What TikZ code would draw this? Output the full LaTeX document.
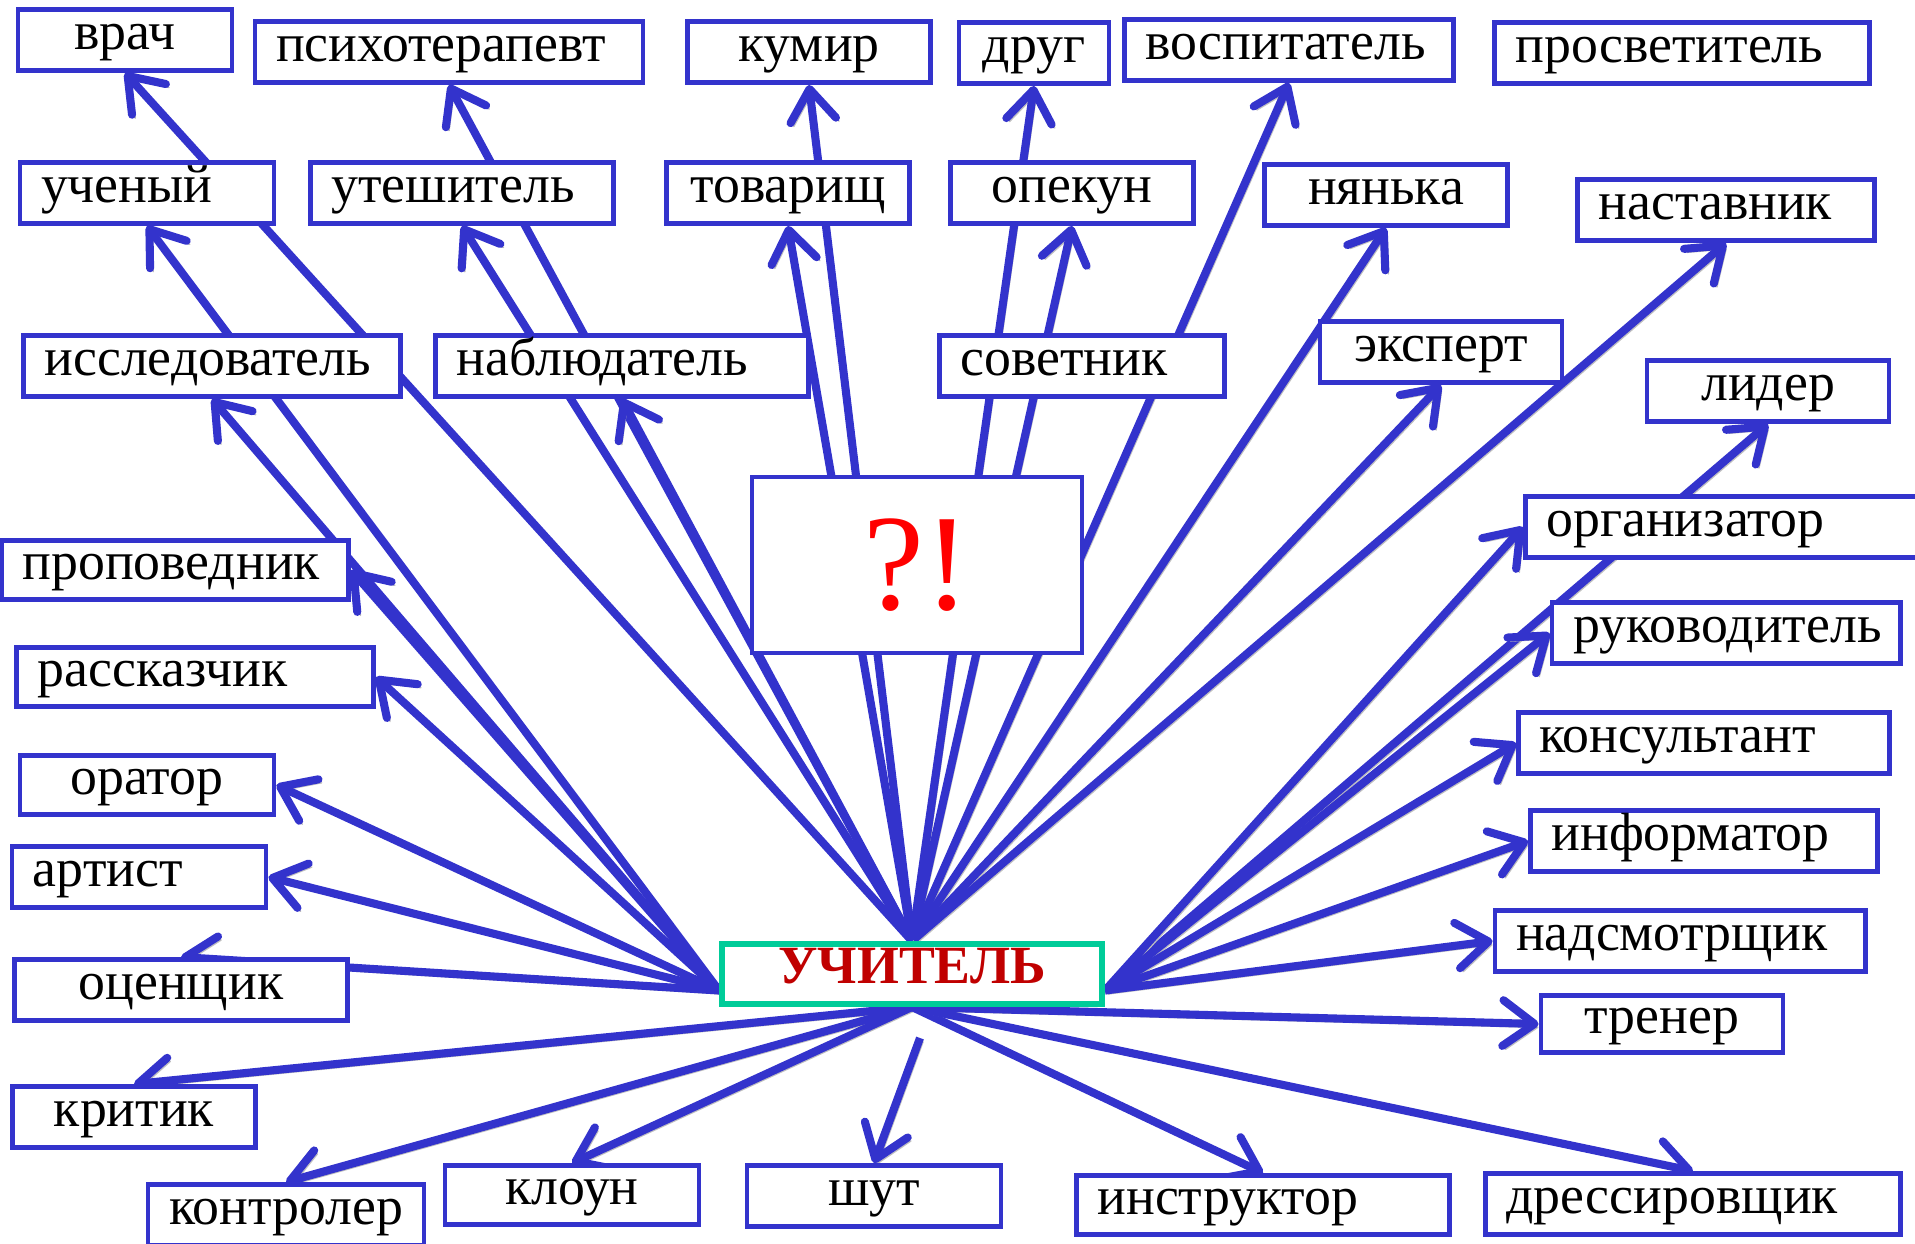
\documentclass[tikz,border=0pt]{standalone}
\usepackage{fontspec}
\setmainfont{Liberation Serif}
\usepackage{tikz}
\usetikzlibrary{arrows.meta, calc, backgrounds}
\definecolor{LineBlue}{HTML}{3333CC}
\definecolor{Teal}{HTML}{00CC99}
\definecolor{DeepRed}{HTML}{C00000}
\definecolor{Signal}{HTML}{FF0000}
\tikzset{
  word/.style={draw=LineBlue, line width=1.4pt, fill=white, inner sep=0pt,
    minimum height=0.61cm, text=black, text height=0.30cm, text depth=0.11cm,
    font=\fontsize{15.3}{18}\selectfont},
  lword/.style={word, align=left, inner xsep=0.21cm, text width=#1},
  teacher/.style={draw=Teal, line width=1.7pt, fill=white, inner sep=0pt,
    minimum width=3.8cm, minimum height=0.6cm, text=DeepRed,
    text height=0.35cm, text depth=0.17cm,
    font=\fontsize{15.3}{18}\selectfont\bfseries},
  link/.style={-{Straight Barb[length=9pt, width=13pt, round]}, line width=2.3pt, color=LineBlue,
    preaction={draw=black!25, transform canvas={xshift=0.9pt, yshift=-1pt}}},
}

\begin{document}
\begin{tikzpicture}
  \useasboundingbox (0,0) rectangle (19.15,12.43);

  % Top row
  \node[word, minimum width=2.14cm] (vrach) at (1.25,12.03) {врач};
  \node[lword=3.46cm] (psych) at (4.49,11.91) {психотерапевт};
  \node[word, minimum width=2.43cm] (kumir) at (8.09,11.91) {кумир};
  \node[word, minimum width=1.50cm] (drug) at (10.34,11.90) {друг};
  \node[lword=2.87cm] (vospit) at (12.89,11.93) {воспитатель};
  \node[lword=3.33cm] (prosvet) at (16.82,11.90) {просветитель};

  % Second row
  \node[lword=2.12cm] (uchen) at (1.47,10.50) {ученый};
  \node[lword=2.61cm] (utesh) at (4.62,10.50) {утешитель};
  \node[word, minimum width=2.43cm] (tovar) at (7.88,10.50) {товарищ};
  \node[word, minimum width=2.43cm] (opekun) at (10.72,10.50) {опекун};
  \node[word, minimum width=2.43cm] (nyanka) at (13.86,10.48) {нянька};
  \node[lword=2.55cm] (nastav) at (17.26,10.33) {наставник};

  % Third row
  \node[lword=3.35cm] (issled) at (2.12,8.77) {исследователь};
  \node[lword=3.31cm] (nabl) at (6.22,8.77) {наблюдатель};
  \node[lword=2.43cm] (sovet) at (10.82,8.77) {советник};
  \node[word, minimum width=2.42cm] (ekspert) at (14.41,8.91) {эксперт};
  \node[word, minimum width=2.42cm] (lider) at (17.68,8.52) {лидер};

  % Question box
  \node[word, minimum width=3.30cm, minimum height=1.76cm, text=Signal,
    text height=, text depth=, font=\fontsize{39}{44}\selectfont] (qbox) at (9.17,6.78) {?!};

  % Left column
  \node[lword=3.05cm, minimum height=0.59cm] (propov) at (1.75,6.73) {проповедник};
  \node[lword=3.15cm, minimum height=0.59cm] (rasskaz) at (1.95,5.66) {рассказчик};
  \node[word, minimum width=2.54cm, minimum height=0.59cm] (orator) at (1.47,4.58) {оратор};
  \node[lword=2.12cm] (artist) at (1.39,3.66) {артист};
  \node[word, minimum width=3.33cm] (ocensch) at (1.81,2.53) {оценщик};
  \node[word, minimum width=2.43cm] (kritik) at (1.34,1.26) {критик};
  \node[word, minimum width=2.76cm] (kontrol) at (2.86,0.28) {контролер};

  % Bottom row
  \node[word, minimum width=2.54cm, minimum height=0.59cm] (kloun) at (5.72,0.48) {клоун};
  \node[word, minimum width=2.54cm] (shut) at (8.74,0.47) {шут};
  \node[lword=3.31cm, minimum height=0.59cm] (instr) at (12.63,0.38) {инструктор};
  \node[lword=3.73cm] (dressir) at (16.93,0.39) {дрессировщик};

  % Right column
  \node[lword=3.87cm] (organiz) at (17.40,7.16) {организатор};
  \node[lword=3.06cm] (rukov) at (17.26,6.10) {руководитель};
  \node[lword=3.29cm] (konsult) at (17.04,5.00) {консультант};
  \node[lword=3.05cm] (inform) at (17.04,4.02) {информатор};
  \node[lword=3.28cm] (nadsm) at (16.80,3.02) {надсмотрщик};
  \node[word, minimum width=2.42cm, minimum height=0.57cm] (trener) at (16.62,2.19) {тренер};

  % Centre
  \node[teacher] (uchitel) at (9.12,2.69) {УЧИТЕЛЬ};
  \coordinate (hl) at ($(uchitel.west)!0.5!(uchitel.south west)$);
  \coordinate (hr) at ($(uchitel.east)!0.5!(uchitel.south east)$);
  \coordinate (shutfrom) at (9.20,2.05);

  % Arrows behind the boxes
  \begin{scope}[on background layer]
    \foreach \t in {vrach,psych,kumir,tovar,drug,opekun,vospit,nyanka,ekspert,nastav,utesh,nabl}
      \draw[link] (uchitel.north) -- (\t.south);
    \foreach \t in {uchen,issled}
      \draw[link] (hl) -- (\t.south);
    \foreach \t in {propov,rasskaz,orator,artist}
      \draw[link] (hl) -- (\t.east);
    \draw[link] (hl) -- (ocensch.north);
    \draw[link] (hr) -- (lider.south);
    \foreach \t in {organiz,rukov,konsult,inform,nadsm}
      \draw[link] (hr) -- (\t.west);
    \draw[link] (uchitel.south) -- (trener.west);
    \foreach \t in {kritik,kontrol,kloun,instr,dressir}
      \draw[link] (uchitel.south) -- (\t.north);
    \draw[link] (shutfrom) -- (shut.north);
  \end{scope}
\end{tikzpicture}
\end{document}
